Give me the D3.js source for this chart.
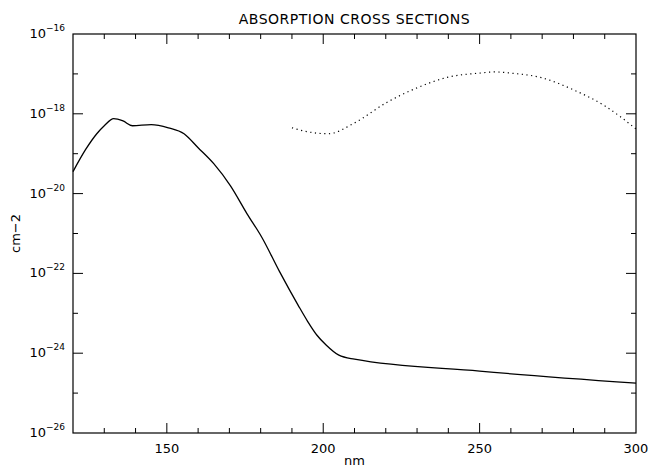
<!DOCTYPE html>
<html><head><meta charset="utf-8">
<script src="https://cdn.jsdelivr.net/npm/d3@7"></script>
<style>body{margin:0;background:#fff}text{font-family:"DejaVu Sans",sans-serif;fill:#000}</style>
</head><body>
<script>
// wavelength (nm) and log10 of cross section
var solid_nm  = [120,124,127.6,130,133,136,139,145,150.5,155.5,160,165,170.3,175.6,180.4,186,192,195,198,201,205,210,250,300];
var solid_log = [-19.45,-18.9,-18.5,-18.3,-18.12,-18.18,-18.3,-18.27,-18.35,-18.5,-18.85,-19.25,-19.8,-20.5,-21.1,-21.95,-22.8,-23.2,-23.55,-23.8,-24.05,-24.15,-24.45,-24.75];
var dot_nm  = [190,195,201.6,210,220,230,240,250,255,260,270,280,290,300];
var dot_log = [-18.35,-18.45,-18.5,-18.23,-17.73,-17.35,-17.08,-16.98,-16.95,-16.98,-17.1,-17.4,-17.8,-18.38];
var x_ticks = [150,200,250,300];
var y_ticks = [-26,-24,-22,-20,-18,-16];

var w = 649, h = 471;
var left = 73, right = 636, top_ = 34, bottom = 433;

var svg = d3.select("body").append("svg").attr("width", w).attr("height", h);

var x = d3.scaleLinear().domain([120,300]).range([left,right]);
var y = d3.scaleLog().domain([1e-26,1e-16]).range([bottom,top_]);

svg.append("rect").attr("x",left).attr("y",top_).attr("width",right-left).attr("height",bottom-top_)
    .attr("fill","none").attr("stroke","#000").attr("stroke-width",1.2);

// x ticks, every 10 nm, major each 50
d3.range(130,300,10).forEach(function(v){
    var big = v % 50 == 0, len = big ? 10 : 5;
    svg.append("line").attr("x1",x(v)).attr("x2",x(v)).attr("y1",bottom).attr("y2",bottom-len).attr("stroke","#000");
    svg.append("line").attr("x1",x(v)).attr("x2",x(v)).attr("y1",top_).attr("y2",top_+len).attr("stroke","#000");
});
x_ticks.forEach(function(v){
    svg.append("text").attr("x",x(v)).attr("y",bottom+20).attr("text-anchor","middle").attr("font-size",13).text(v);
});
// y ticks each decade
d3.range(-25,-16,1).forEach(function(p){
    var big = p % 2 == 0, len = big ? 10 : 5;
    svg.append("line").attr("x1",left).attr("x2",left+len).attr("y1",y(Math.pow(10,p))).attr("y2",y(Math.pow(10,p))).attr("stroke","#000");
    svg.append("line").attr("x1",right).attr("x2",right-len).attr("y1",y(Math.pow(10,p))).attr("y2",y(Math.pow(10,p))).attr("stroke","#000");
});
y_ticks.forEach(function(p){
    var t = svg.append("text").attr("x",left-8).attr("y",y(Math.pow(10,p))+4).attr("text-anchor","end").attr("font-size",13);
    t.append("tspan").text("10");
    t.append("tspan").attr("dy",-7).attr("font-size",9).text("\u2212"+(-p));
});

var line = d3.line().x(function(d){return x(d[0]);}).y(function(d){return y(Math.pow(10,d[1]));}).curve(d3.curveMonotoneX);

svg.append("path").datum(d3.zip(solid_nm, solid_log)).attr("d",line)
    .attr("fill","none").attr("stroke","#000").attr("stroke-width",1.3);
svg.append("path").datum(d3.zip(dot_nm, dot_log)).attr("d",line)
    .attr("fill","none").attr("stroke","#000").attr("stroke-width",1.2).attr("stroke-dasharray","1.2,3.5");

svg.append("text").attr("x",(left+right)/2).attr("y",24).attr("text-anchor","middle").attr("font-size",14)
    .attr("letter-spacing",0.5).text("ABSORPTION CROSS SECTIONS");
svg.append("text").attr("x",(left+right)/2).attr("y",465).attr("text-anchor","middle").attr("font-size",13).text("nm");
svg.append("text").attr("transform","translate(20,"+((top_+bottom)/2)+") rotate(-90)").attr("text-anchor","middle")
    .attr("font-size",13).text("cm\u22122");
</script>
</body></html>
